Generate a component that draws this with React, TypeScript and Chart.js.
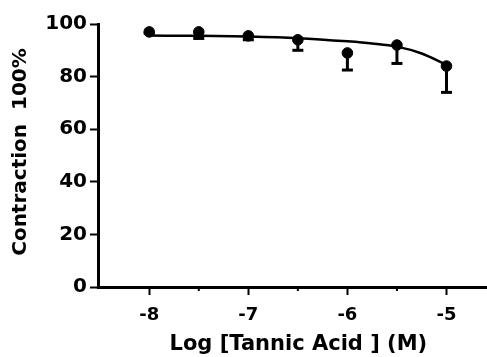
import React, { useEffect, useRef } from "react";
import { Chart, registerables } from "chart.js";

Chart.register(...registerables);

const doseX = [-8, -7.5, -7, -6.5, -6, -5.5, -5];
const meanY = [97, 97, 95.5, 94, 89, 92, 84];
const lowerY = [96.5, 94.5, 94, 90, 82.5, 85, 74];
const curveX = [-8, -7.5, -7, -6.5, -6, -5.75, -5.5, -5.25, -5];
const curveY = [95.6, 95.5, 95.2, 94.6, 93.4, 92.6, 91.4, 88.8, 84.5];
const xTickValues = [-8, -7.5, -7, -6.5, -6, -5.5, -5];
const yTickValues = [0, 20, 40, 60, 80, 100];

const FONT = "'DejaVu Sans', Arial, sans-serif";

const errorBarPlugin = {
  id: "errorBars",
  afterDatasetsDraw(chart: any) {
    const ctx = chart.ctx;
    const xs = chart.scales.x;
    const ys = chart.scales.y;
    ctx.save();
    ctx.strokeStyle = "#000";
    ctx.lineWidth = 3;
    ctx.lineCap = "butt";
    for (let i = 0; i < doseX.length; i++) {
      const px = xs.getPixelForValue(doseX[i]);
      const py = ys.getPixelForValue(meanY[i]);
      const pl = ys.getPixelForValue(lowerY[i]);
      ctx.beginPath();
      ctx.moveTo(px, py);
      ctx.lineTo(px, pl);
      ctx.stroke();
      ctx.beginPath();
      ctx.moveTo(px - 5.5, pl);
      ctx.lineTo(px + 5.5, pl);
      ctx.stroke();
    }
    ctx.restore();
  },
};

const minorTickPlugin = {
  id: "minorTicks",
  afterDraw(chart: any) {
    const ctx = chart.ctx;
    const xs = chart.scales.x;
    const bottom = chart.chartArea.bottom;
    ctx.save();
    ctx.strokeStyle = "#000";
    ctx.lineWidth = 2;
    xTickValues.forEach((v) => {
      if (Number.isInteger(v)) return;
      const px = xs.getPixelForValue(v);
      ctx.beginPath();
      ctx.moveTo(px, bottom);
      ctx.lineTo(px, bottom + 4);
      ctx.stroke();
    });
    ctx.restore();
  },
};

export default function App() {
  const ref = useRef<HTMLCanvasElement | null>(null);
  useEffect(() => {
    if (!ref.current) return;
    const chart = new Chart(ref.current, {
      type: "scatter",
      data: {
        datasets: [
          {
            type: "line",
            data: curveX.map((x, i) => ({ x, y: curveY[i] })),
            borderColor: "#000",
            borderWidth: 2.5,
            pointRadius: 0,
            cubicInterpolationMode: "monotone",
            fill: false,
          } as any,
          {
            data: doseX.map((x, i) => ({ x, y: meanY[i] })),
            backgroundColor: "#000",
            borderColor: "#000",
            pointRadius: 5.3,
            pointHoverRadius: 5.3,
          },
        ],
      },
      options: {
        animation: false,
        responsive: false,
        maintainAspectRatio: false,
        layout: { padding: { top: 24, right: 0, left: 0, bottom: 0 } },
        plugins: { legend: { display: false }, tooltip: { enabled: false } },
        scales: {
          x: {
            type: "linear",
            min: -8.517,
            max: -4.473,
            afterBuildTicks: (s: any) => {
              s.ticks = xTickValues.filter((v) => Number.isInteger(v)).map((v) => ({ value: v }));
            },
            afterFit: (s: any) => {
              s.height = 70;
            },
            grid: {
              drawOnChartArea: false,
              drawTicks: true,
              tickLength: 8,
              tickColor: "#000",
              tickWidth: 2,
            },
            border: { color: "#000", width: 3 },
            ticks: {
              color: "#000",
              font: { family: FONT, size: 18, weight: "bold" },
              padding: 10,
              callback: (v: any) => String(v),
            },
            title: {
              display: true,
              text: "Log [Tannic Acid ] (M)",
              color: "#000",
              font: { family: FONT, size: 21, weight: "bold" },
              padding: { top: 5, bottom: 0 },
            },
          },
          y: {
            type: "linear",
            min: 0,
            max: 100,
            afterBuildTicks: (s: any) => {
              s.ticks = yTickValues.map((v) => ({ value: v }));
            },
            afterFit: (s: any) => {
              s.width = 98;
            },
            grid: {
              drawOnChartArea: false,
              drawTicks: true,
              tickLength: 8,
              tickColor: "#000",
              tickWidth: 2,
            },
            border: { color: "#000", width: 3 },
            ticks: {
              color: "#000",
              font: { family: FONT, size: 20, weight: "bold" },
              padding: 3,
            },
            title: {
              display: true,
              text: " Contraction  100%",
              color: "#000",
              font: { family: FONT, size: 20, weight: "bold" },
              padding: { top: 9, bottom: 0 },
            },
          },
        },
      },
      plugins: [errorBarPlugin, minorTickPlugin],
    });
    return () => chart.destroy();
  }, []);
  return (
    <div style={{ position: "fixed", left: 0, top: 0, width: 487, height: 357, overflow: "hidden", background: "#fff" }}>
      <canvas ref={ref} width={505} height={357} style={{ display: "block", width: 505, height: 357 }} />
    </div>
  );
}
